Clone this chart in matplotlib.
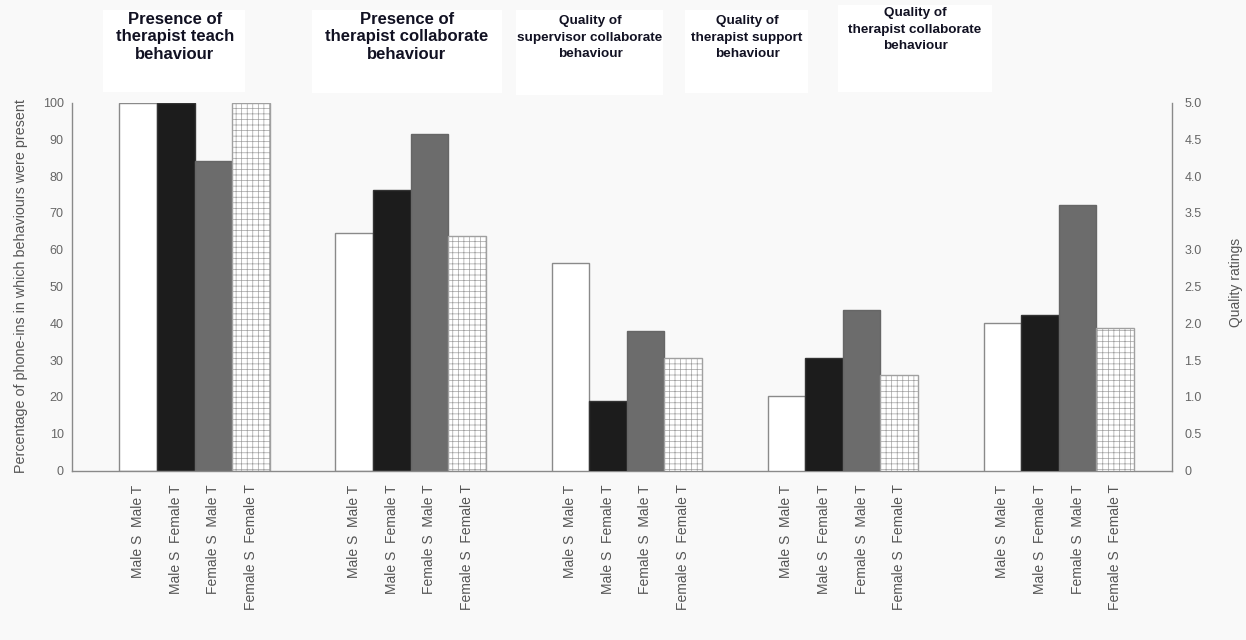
import numpy as np
import matplotlib
matplotlib.use("Agg")
from matplotlib import pyplot as plt
from matplotlib.patches import Rectangle

# Data
categories = ["Male S  Male T", "Male S  Female T", "Female S  Male T", "Female S  Female T"]
panel_titles = [
    "Presence of\ntherapist teach\nbehaviour",
    "Presence of\ntherapist collaborate\nbehaviour",
    "Quality of\nsupervisor collaborate\nbehaviour",
    "Quality of\ntherapist support\nbehaviour",
    "Quality of\ntherapist collaborate\nbehaviour",
]
presence_teach = [100, 100, 84, 100]          # percent (left axis)
presence_collab = [64.5, 76.3, 91.5, 63.8]    # percent (left axis)
quality_sup_collab = [2.82, 0.94, 1.90, 1.53]  # rating (right axis)
quality_ther_support = [1.01, 1.53, 2.18, 1.30]
quality_ther_collab = [2.00, 2.11, 3.61, 1.93]

percent_groups = [presence_teach, presence_collab]
quality_groups = [quality_sup_collab, quality_ther_support, quality_ther_collab]

plt.rcParams['font.family'] = ['Liberation Sans', 'DejaVu Sans']
plt.rcParams['hatch.linewidth'] = 0.5
plt.rcParams['hatch.color'] = '#b0b0b0'

bg = '#f9f9f9'
fig = plt.figure(figsize=(12.46, 6.4), dpi=100, facecolor=bg)
ax = fig.add_axes([0.0578, 0.2648, 0.8828, 0.575])
ax.set_facecolor(bg)
ax2 = ax.twinx()

width = 0.174
offsets = (np.arange(4) - 1.5) * width
styles = [
    dict(facecolor='white', edgecolor='#8a8a8a', hatch=None),
    dict(facecolor='#1c1c1c', edgecolor='#333333', hatch=None),
    dict(facecolor='#6c6c6c', edgecolor='#666666', hatch=None),
    dict(facecolor='white', edgecolor='#a0a0a0', hatch='+++'),
]

# Presence groups on the percentage axis, quality groups on the rating axis
for g, vals in enumerate(percent_groups):
    for k, v in enumerate(vals):
        ax.bar(g + offsets[k], v, width, linewidth=1.0, **styles[k])
for j, vals in enumerate(quality_groups):
    g = j + len(percent_groups)
    for k, v in enumerate(vals):
        ax2.bar(g + offsets[k], v, width, linewidth=1.0, **styles[k])

n_groups = len(percent_groups) + len(quality_groups)
ax.set_xlim(-0.5675, 4.524)
ax.set_ylim(0, 100)
ax2.set_ylim(0, 5)

xpos = np.concatenate([g + offsets for g in range(n_groups)])
ax.set_xticks(xpos)
ax.set_xticklabels(categories * n_groups, rotation=90, fontsize=10, color='#555555')
ax.tick_params(axis='x', length=0, pad=10)

ax.set_yticks(range(0, 101, 10))
ax.set_yticklabels([str(v) for v in range(0, 101, 10)])
ax.tick_params(axis='y', length=0, pad=6, labelsize=9, labelcolor='#666666')
q_ticks = np.arange(0, 5.01, 0.5)
ax2.set_yticks(q_ticks)
ax2.set_yticklabels(['0'] + ['%.1f' % t for t in q_ticks[1:]])
ax2.tick_params(axis='y', length=0, pad=9, labelsize=9, labelcolor='#666666')

for a in (ax, ax2):
    a.spines['top'].set_visible(False)
    for s in ('left', 'right', 'bottom'):
        a.spines[s].set_color('#8a8a8a')
        a.spines[s].set_linewidth(1.0)
ax.spines['right'].set_visible(False)
ax2.spines['left'].set_visible(False)
ax2.spines['bottom'].set_visible(False)

ax.set_ylabel("Percentage of phone-ins in which behaviours were present",
              fontsize=10.3, color='#555555')
ax.yaxis.set_label_coords(-0.04, 0.5)
ax2.set_ylabel("Quality ratings", fontsize=10, color='#555555', rotation=90)
ax2.yaxis.set_label_coords(1.0515, 0.51)

# White title boxes above each group (figure pixel layout)
W, H = 1246.0, 640.0
boxes = [(103, 10, 245, 92, 175, 12, 12, 1.2), (312, 10, 502, 93, 407, 12, 12, 1.2),
         (516, 10, 663, 95, 590, 15, 9.7, 1.5), (685, 10, 808, 93, 747, 15, 9.7, 1.5),
         (838, 5, 992, 92, 915, 7, 9.7, 1.5)]
for (x0, y0, x1, y1, tx, ty, fs, ls), title in zip(boxes, panel_titles):
    fig.add_artist(Rectangle((x0 / W, 1 - y1 / H), (x1 - x0) / W, (y1 - y0) / H,
                             transform=fig.transFigure, facecolor='white',
                             edgecolor='none', zorder=0))
    fig.text(tx / W, 1 - ty / H, title, ha='center', va='top',
             fontsize=fs, fontweight='bold', color='#111122', linespacing=ls)

fig.savefig('out.png', dpi=100, facecolor=bg)
